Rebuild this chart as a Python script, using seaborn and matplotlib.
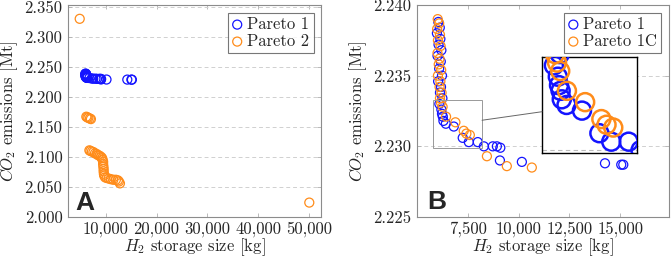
import numpy as np
import pandas as pd
import seaborn as sns
from matplotlib import pyplot as plt, ticker
from matplotlib.patches import Rectangle
from matplotlib.lines import Line2D

# Pareto 1 (shared by both panels)
p1_x = [6050, 6120, 5980, 6150, 6060, 6200, 6010, 6170, 6090, 6230, 6040, 6180,
        6130, 6250, 6100, 6200, 6230, 6270, 6300, 6420, 6810, 7250, 7550, 7990,
        8290, 8730, 8930, 9100, 9080, 10160, 14250, 15050, 15150]
p1_y = [2.2388, 2.2384, 2.2380, 2.2376, 2.2372, 2.2368, 2.2364, 2.2360, 2.2355,
        2.2350, 2.2346, 2.2342, 2.2338, 2.2334, 2.2330, 2.2326, 2.2323, 2.2321,
        2.2318, 2.2316, 2.2314, 2.2306, 2.2303, 2.2303, 2.2300, 2.2300, 2.2300,
        2.2299, 2.2290, 2.2289, 2.2288, 2.2287, 2.2287]

# Pareto 2 (panel A)
p2_x = [4900, 6200, 6400, 6600, 6900, 7100,
        6800, 7000, 7300, 7600, 7900, 8200, 8500, 8800, 9100, 9300, 9400, 9500,
        9500, 9550, 9600, 9600, 9650, 9700, 9900, 10200, 10600, 11000, 11500,
        12000, 12400, 12600, 12800, 50000]
p2_y = [2.330, 2.167, 2.166, 2.165, 2.164, 2.163,
        2.111, 2.110, 2.109, 2.108, 2.106, 2.105, 2.103, 2.102, 2.100, 2.098,
        2.095, 2.092, 2.088, 2.084, 2.080, 2.076, 2.072, 2.069, 2.066, 2.065,
        2.064, 2.063, 2.062, 2.062, 2.061, 2.059, 2.056, 2.024]

# Pareto 1C (panel B)
p1c_x = [6020, 6090, 5990, 6130, 6030, 6160, 6010, 6110, 6070, 6190, 6030, 6150,
         6110, 6210, 6130, 6180, 6260, 6430, 6890, 7300, 7430, 7600, 8440, 9420,
         10650]
p1c_y = [2.2390, 2.2387, 2.2383, 2.2379, 2.2375, 2.2371, 2.2366, 2.2362, 2.2358,
         2.2354, 2.2350, 2.2346, 2.2342, 2.2338, 2.2334, 2.2331, 2.2328, 2.2321,
         2.2317, 2.2311, 2.2309, 2.2308, 2.2293, 2.2286, 2.2285]

# zoom window of panel B
zoom_x = (5800, 8200)
zoom_y = (2.2299, 2.2333)

BLUE = '#1414ff'
ORANGE = '#ff8c1a'

sns.set_style('ticks')
plt.rcParams['font.family'] = ['cmr10', 'DejaVu Serif']
plt.rcParams['mathtext.fontset'] = 'cm'
plt.rcParams['axes.formatter.use_mathtext'] = True
FS = 12

fig = plt.figure(figsize=(6.71, 2.59), dpi=100)
W, H = 671, 259
axA = fig.add_axes([68 / W, 42 / H, 253 / W, 212 / H])
axB = fig.add_axes([417 / W, 42 / H, 252 / W, 212 / H])


def scatter(ax, x, y, color, label, s=42, lw=0.9):
    sns.scatterplot(x=x, y=y, ax=ax, marker='o', s=s, facecolor='none',
                    edgecolor=color, linewidth=lw, label=label, zorder=3)


def style(ax):
    for sp in ax.spines.values():
        sp.set_color('#8c8c8c')
        sp.set_linewidth(0.8)
    ax.tick_params(direction='in', length=3, width=0.6, color='#b0b0b0',
                   top=True, right=True, labelsize=FS, pad=4)
    ax.tick_params(axis='x', pad=3)
    ax.yaxis.grid(True, linestyle=(0, (4, 3)), color='#d0d0d0', lw=0.7)
    ax.xaxis.grid(False)
    ax.set_axisbelow(True)
    ax.xaxis.set_major_formatter(ticker.FuncFormatter(lambda v, p: f'{v:,.0f}'))
    ax.yaxis.set_major_formatter(ticker.FuncFormatter(lambda v, p: f'{v:.3f}'))
    ax.set_xlabel('$H_2$ storage size [kg]', fontsize=FS, labelpad=0)
    ax.set_ylabel('$CO_2$ emissions [Mt]', fontsize=FS, labelpad=3)
    leg = ax.legend(loc='upper right', frameon=True, fancybox=False,
                    handlelength=0.6, handletextpad=0.3, borderpad=0.25,
                    labelspacing=0.1, borderaxespad=0.45, fontsize=FS)
    leg.get_frame().set_edgecolor('#555555')
    leg.get_frame().set_linewidth(0.8)


# panel A
scatter(axA, p1_x, p1_y, BLUE, 'Pareto 1')
scatter(axA, p2_x, p2_y, ORANGE, 'Pareto 2')
axA.set_xlim(2600, 52300)
axA.set_ylim(2.0, 2.353)
axA.set_xticks([10000, 20000, 30000, 40000, 50000])
axA.set_yticks(np.arange(2.0, 2.351, 0.05))
style(axA)
axA.text(0.03, 0.035, 'A', transform=axA.transAxes, fontsize=19,
         fontweight='bold', family='Liberation Sans')

# panel B
scatter(axB, p1_x, p1_y, BLUE, 'Pareto 1')
scatter(axB, p1c_x, p1c_y, ORANGE, 'Pareto 1C')
axB.set_xlim(5000, 17400)
axB.set_ylim(2.225, 2.240)
axB.set_xticks([7500, 10000, 12500, 15000])
axB.set_yticks([2.225, 2.230, 2.235, 2.240])
style(axB)
axB.text(0.04, 0.04, 'B', transform=axB.transAxes, fontsize=19,
         fontweight='bold', family='Liberation Sans')

# zoom inset
axins = axB.inset_axes([0.496, 0.302, 0.377, 0.453])
scatter(axins, p1_x, p1_y, BLUE, None, s=168, lw=1.8)
scatter(axins, p1c_x, p1c_y, ORANGE, None, s=168, lw=1.8)
axins.set_xlim(*zoom_x)
axins.set_ylim(*zoom_y)
axins.set_xticks([])
axins.set_yticks([2.230])
axins.set_yticklabels([])
axins.tick_params(length=0)
axins.yaxis.grid(True, linestyle=(0, (4, 3)), color='#bbbbbb', lw=0.8)
axins.set_axisbelow(True)
axins.set_xlabel('')
axins.set_ylabel('')
axins.set_facecolor('white')
if axins.get_legend():
    axins.get_legend().remove()
for sp in axins.spines.values():
    sp.set_color('black')
    sp.set_linewidth(1.0)
axins.set_zorder(5)

axB.add_patch(Rectangle((zoom_x[0], zoom_y[0]), zoom_x[1] - zoom_x[0],
                        zoom_y[1] - zoom_y[0], fill=False, edgecolor='#999999',
                        lw=0.7, zorder=4))

# connector between centres, clipped to both boxes
c1 = axB.transData.transform(((zoom_x[0] + zoom_x[1]) / 2, (zoom_y[0] + zoom_y[1]) / 2))
c2 = axins.transAxes.transform((0.5, 0.5))
xr = axB.transData.transform((zoom_x[1], zoom_y[0]))[0]
xl = axins.transAxes.transform((0, 0))[0]
slope = (c2[1] - c1[1]) / (c2[0] - c1[0])
pa = (xr, c1[1] + slope * (xr - c1[0]))
pb = (xl, c1[1] + slope * (xl - c1[0]))
fa = fig.transFigure.inverted().transform([pa, pb])
fig.add_artist(Line2D(fa[:, 0], fa[:, 1], color='#666666', lw=0.7))

plt.savefig('out.png', dpi=100)
